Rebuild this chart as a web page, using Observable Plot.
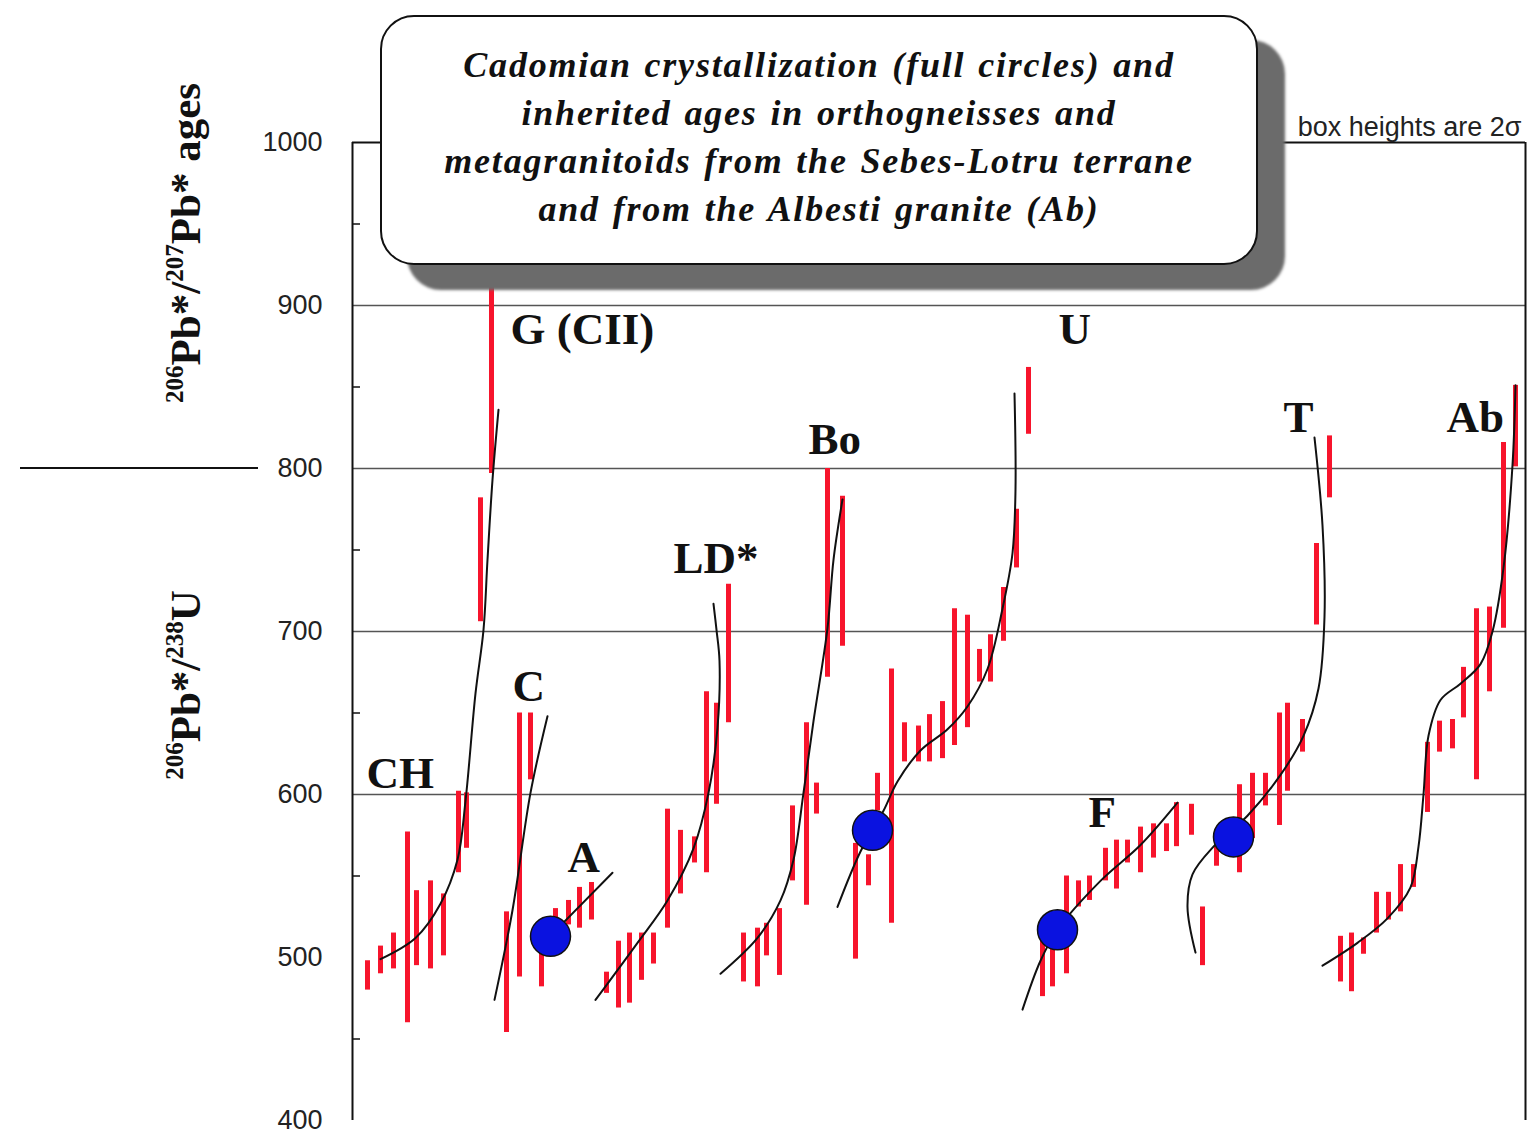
<!DOCTYPE html>
<html>
<head>
<meta charset="utf-8">
<script src="https://cdn.jsdelivr.net/npm/d3@7"></script>
<script src="https://cdn.jsdelivr.net/npm/@observablehq/plot@0.6"></script>
<style>
  html, body { margin: 0; padding: 0; background: #fff; }
  #wrap { position: relative; width: 1530px; height: 1142px; overflow: hidden; background: #fff; }
  #title {
    position: absolute; left: 380px; top: 15px; width: 878px; height: 250px;
    box-sizing: border-box; border: 2px solid #111; border-radius: 34px; background: #fff;
    box-shadow: 27px 25px 3px #6b6b6b;
    font: italic bold 36px "Liberation Serif", serif; color: #111; letter-spacing: 1.8px; word-spacing: 2px;
    text-align: center; line-height: 48px; padding-top: 24px; white-space: nowrap;
  }
  .ylab { position: absolute; transform: translate(-50%, -50%) rotate(-90deg); white-space: nowrap;
    font: bold 43px "Liberation Serif", serif; color: #111; }
  .ylab sup { font-size: 25px; vertical-align: 17px; }
  #sep { position: absolute; left: 20px; top: 467px; width: 238px; height: 0; border-top: 2px solid #111; }
</style>
</head>
<body>
<div id="wrap"></div>
<script>
// ---- data: x = analysis position (arbitrary ordering units), [x, lower 2σ, upper 2σ] ages in Ma ----
const barsCHG = [[1.5,480,498],[2.8,490,507],[4.1,493,515],[5.5,460,577],[6.4,495,541],[7.8,493,547],[9.1,501,539],[10.6,552,602],[11.4,567,601],[12.8,706,782],[13.9,797,930]];
const barsC   = [[15.4,454,528],[16.7,488,650],[17.8,609,650]];
const barsA   = [[18.9,482,506],[20.3,518,530],[21.6,520,535],[22.7,518,543],[23.9,523,546]];
const barsLD  = [[25.4,478,491],[26.6,469,510],[27.7,472,515],[28.9,486,515],[30.1,496,515],[31.5,518,591],[32.8,539,578],[34.2,558,574],[35.4,552,663],[36.4,594,656],[37.6,644,729]];
const barsBo  = [[39.1,485,515],[40.5,482,518],[41.4,501,521],[42.7,489,530],[44.0,547,593],[45.4,532,644],[46.4,588,607],[47.5,672,800],[49.0,691,783]];
const barsU   = [[50.3,499,570],[51.6,544,563],[52.5,590,613],[53.9,521,677],[55.2,620,644],[56.6,620,642],[57.7,620,649],[59.0,622,657],[60.2,630,714],[61.5,641,710],[62.7,669,689],[63.8,669,698],[65.1,694,727],[66.4,739,775],[67.6,821,862]];
const barsF   = [[69.0,476,512],[70.0,482,509],[71.4,490,550],[72.6,531,547],[73.7,535,550],[75.3,547,567],[76.4,542,572],[77.5,558,572],[78.8,552,580],[80.1,561,582],[81.4,565,582],[82.4,568,595],[83.9,575,594]];
const barsT   = [[85.0,495,531],[86.4,556,568],[88.7,552,606],[90.0,573,613],[91.3,593,613],[92.7,581,650],[93.5,602,656],[95.0,626,646],[96.4,704,754],[97.7,782,820]];
const barsAb  = [[98.8,485,513],[99.9,479,515],[101.1,502,512],[102.4,515,540],[103.6,523,540],[104.8,528,557],[106.1,543,557],[107.5,589,632],[108.7,626,645],[110.0,628,646],[111.1,647,678],[112.4,609,714],[113.7,663,715],[115.1,702,816],[116.3,801,851]];

// hand-drawn trend curves, [x, age]
const curveCHG = [[2.8,499],[6.3,512],[8.8,533],[10.5,560],[11.3,596],[12.3,662],[13.1,701],[13.5,744],[14.0,793],[14.6,836]];
const curveC   = [[14.2,474],[16.0,529],[17.8,601],[19.5,648]];
const curveA   = [[19.1,509],[26.0,552]];
const curveLD  = [[24.3,474],[28.5,509],[31.5,535],[34.1,567],[35.6,601],[36.5,641],[36.7,682],[36.4,701],[36.1,717]];
const curveBo  = [[36.8,490],[40.5,512],[42.8,535],[44.1,560],[45.1,601],[46.1,645],[47.5,702],[48.1,744],[49.0,781]];
const curveU   = [[48.5,531],[50.8,565],[53.1,590],[54.5,608],[56.8,627],[59.5,640],[61.5,654],[63.5,677],[65.0,714],[66.0,748],[66.3,787],[66.2,846]];
const curveF   = [[67.0,468],[68.8,498],[70.5,517],[74.8,547],[78.8,569],[82.5,595]];
const curveT   = [[84.3,503],[83.5,531],[84.0,551],[86.1,568],[89.5,587],[92.8,612],[95.1,636],[96.6,665],[97.2,709],[97.0,765],[96.2,819]];
const curveAb  = [[97.0,495],[100.5,509],[103.5,524],[105.8,543],[106.6,568],[107.1,600],[107.6,636],[108.8,658],[110.8,668],[112.8,680],[114.0,700],[115.1,739],[116.0,802],[116.3,851]];

// Cadomian crystallization ages (full circles)
const circles = [[19.8,513],[52.0,578],[70.5,517],[88.1,574]];

// group labels [name, x, age]
const labels = [["CH",1.4,613],["G (CII)",15.8,885],["C",16.0,666],["A",21.5,561],["LD*",32.1,745],["Bo",45.6,818],["U",70.6,885],["F",73.6,589],["T",93.1,831],["Ab",109.4,831]];

const yTicks = [400,500,600,700,800,900,1000];
const yMinor = [450,550,650,750,850,950];
const gridY = [600,700,800,900];
const xMax = 117.3;

// ---- build tables ----
const barSets = {CHG: barsCHG, C: barsC, A: barsA, LD: barsLD, Bo: barsBo, U: barsU, F: barsF, T: barsT, Ab: barsAb};
const bars = Object.entries(barSets).flatMap(([g, a]) => a.map(([x, lo, hi]) => ({g, x, lo, hi})));
const curveSets = {CHG: curveCHG, C: curveC, A: curveA, LD: curveLD, Bo: curveBo, U: curveU, F: curveF, T: curveT, Ab: curveAb};
const curves = Object.entries(curveSets).flatMap(([g, a]) => a.map(([x, y]) => ({g, x, y})));
const dots = circles.map(([x, y]) => ({x, y}));
const labs = labels.map(([t, x, y]) => ({t, x, y}));

const chart = Plot.plot({
  width: 1530, height: 1142,
  marginLeft: 352, marginRight: 5, marginTop: 142, marginBottom: 22,
  x: {domain: [0, xMax], axis: null},
  y: {domain: [400, 1000], axis: null},
  style: {background: "transparent", fontFamily: "Liberation Sans, Arial, sans-serif", color: "#222"},
  marks: [
    Plot.ruleY(gridY, {stroke: "#555", strokeWidth: 1.6}),
    Plot.ruleY([1000], {stroke: "#111", strokeWidth: 2}),
    Plot.ruleX([0], {y1: 400, y2: 1000, stroke: "#111", strokeWidth: 2}),
    Plot.ruleX([xMax], {y1: 400, y2: 1000, stroke: "#111", strokeWidth: 2}),
    Plot.ruleY(yMinor, {x1: 0, x2: 0.8, stroke: "#111", strokeWidth: 1.5}),
    Plot.axisY(yTicks, {tickSize: 0, tickPadding: 30, fontSize: 27, label: null, fill: "#222", tickFormat: d => String(d)}),
    Plot.ruleX(bars, {x: "x", y1: "lo", y2: "hi", stroke: "#f7142c", strokeWidth: 5}),
    Plot.line(curves, {x: "x", y: "y", z: "g", stroke: "#111", strokeWidth: 2, curve: "catmull-rom"}),
    Plot.dot(dots, {x: "x", y: "y", r: 20, fill: "#0a12e0", stroke: "#111", strokeWidth: 1.5}),
    Plot.text(labs, {x: "x", y: "y", text: "t", textAnchor: "start", fontFamily: "Liberation Serif, serif", fontWeight: "bold", fontSize: 45, fill: "#111"}),
    Plot.text(["box heights are 2σ"], {x: xMax - 0.4, y: 1000, dy: -15, textAnchor: "end", fontSize: 27, fill: "#222"})
  ]
});

const wrap = document.getElementById("wrap");
wrap.appendChild(chart);
wrap.insertAdjacentHTML("beforeend",
  `<div id="title">Cadomian crystallization (full circles) and<br>inherited ages in orthogneisses and<br>metagranitoids from the Sebes-Lotru terrane<br>and from the Albesti granite (Ab)</div>
   <div class="ylab" style="left:185px; top:243px;"><sup>206</sup>Pb*/<sup>207</sup>Pb* ages</div>
   <div class="ylab" style="left:185px; top:685px;"><sup>206</sup>Pb*/<sup>238</sup>U</div>
   <div id="sep"></div>`);
</script>
</body>
</html>
